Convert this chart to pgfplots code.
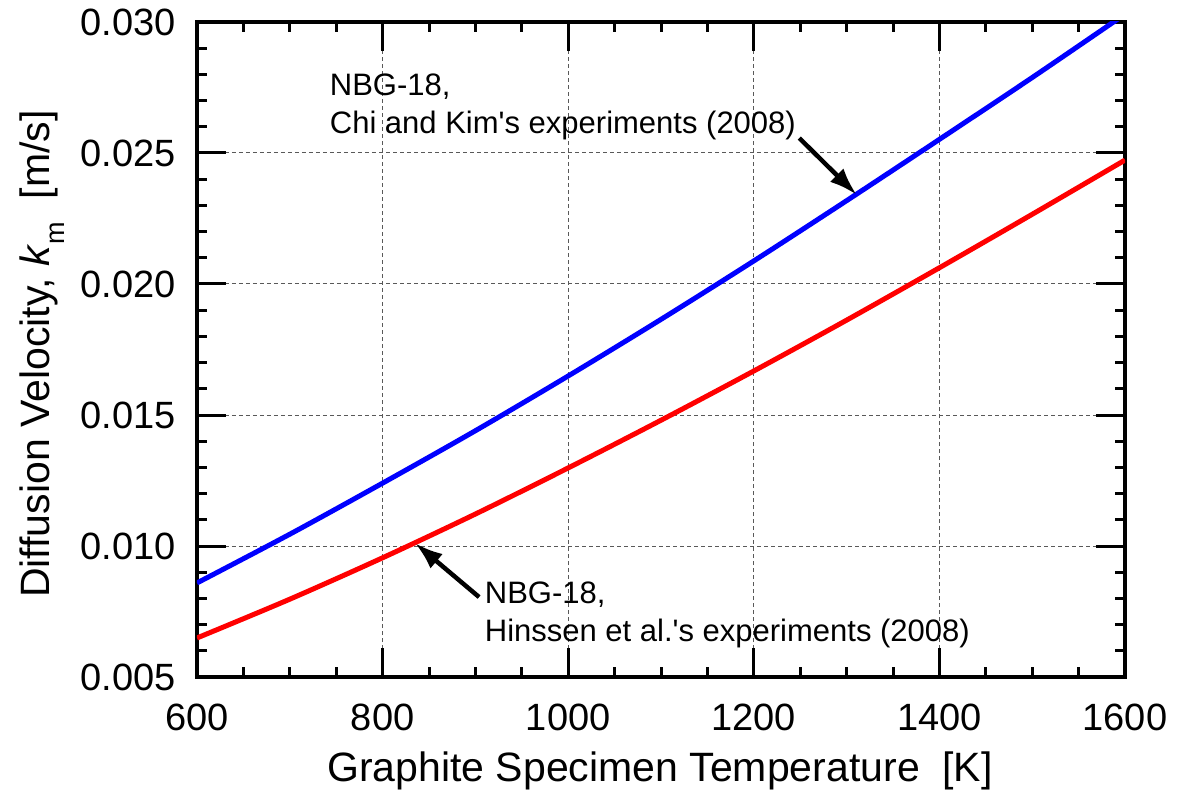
\documentclass[border=0pt]{standalone}
\usepackage{pgfplots}
\pgfplotsset{compat=1.18}
\usepackage{fontspec}
\setmainfont{Liberation Sans}[Ligatures=TeXOff]
\usetikzlibrary{arrows.meta}
\begin{document}
\begin{tikzpicture}
\begin{axis}[
  at={(0,0)}, anchor=south west,
  scale only axis, width=928pt, height=655pt,
  xmin=600, xmax=1600, ymin=0.005, ymax=0.030,
  xtick={600,800,...,1600},
  ytick={0.005,0.010,0.015,0.020,0.025,0.030},
  minor x tick num=3, minor y tick num=4,
  scaled y ticks=false, scaled x ticks=false,
  /pgf/number format/assume math mode=true,
  /pgf/number format/1000 sep={},
  y tick label style={/pgf/number format/fixed, /pgf/number format/fixed zerofill, /pgf/number format/precision=3},
  tick label style={font=\fontsize{38}{45}\selectfont},
  xticklabel style={inner sep=0pt, yshift=-27pt},
  yticklabel style={inner sep=0pt, xshift=-21pt},
  major tick length=29pt, minor tick length=10pt,
  every tick/.style={black, line width=3pt},
  axis line style={line width=4pt},
  tick align=inside,
  grid=major,
  major grid style={dashed, gray!70!black, line width=1pt, dash pattern=on 4pt off 3pt},
  xlabel={Graphite Specimen Temperature\ \ [K]},
  ylabel={Diffusion Velocity, \textit{k}\raisebox{-0.35em}{\fontsize{27}{30}\selectfont m}\ \ [m/s]},
  xlabel style={font=\fontsize{41}{48}\selectfont, at={([yshift=-104pt]axis description cs:0.499,0)}, anchor=base},
  ylabel style={font=\fontsize{41}{48}\selectfont, at={([xshift=-147pt]axis description cs:0,0.493)}, anchor=base},
  clip=true,
]
\addplot[blue, line width=5pt, smooth] coordinates {
(600,0.00859) (700,0.01045) (800,0.01240) (900,0.01440) (1000,0.01649)
(1100,0.01865) (1200,0.02088) (1300,0.02318) (1400,0.02552) (1500,0.02788) (1600,0.03030)};
\addplot[red, line width=5pt, smooth] coordinates {
(600,0.00649) (700,0.00797) (800,0.00955) (900,0.01122) (1000,0.01298)
(1100,0.01480) (1200,0.01668) (1300,0.01862) (1400,0.02062) (1500,0.02266) (1600,0.02473)};
\draw[-{Latex[length=28pt,width=19pt]}, line width=4.5pt] (axis cs:1249,0.02557) -- (axis cs:1311,0.02340);
\draw[-{Latex[length=28pt,width=19pt]}, line width=4.5pt] (axis cs:904,0.00805) -- (axis cs:835,0.01011);
\node[anchor=base west, inner sep=0pt, font=\fontsize{31}{37}\selectfont] at (axis cs:743,0.02721) {NBG-18,};
\node[anchor=base west, inner sep=0pt, font=\fontsize{31}{37}\selectfont] at (axis cs:743,0.02576) {Chi and Kim's experiments (2008)};
\node[anchor=base west, inner sep=0pt, font=\fontsize{31}{37}\selectfont] at (axis cs:910,0.00782) {NBG-18,};
\node[anchor=base west, inner sep=0pt, font=\fontsize{31}{37}\selectfont] at (axis cs:910,0.00634) {Hinssen et al.'s experiments (2008)};
\end{axis}
\path (-197pt,-114pt) rectangle (980pt,677pt);
\end{tikzpicture}
\end{document}
